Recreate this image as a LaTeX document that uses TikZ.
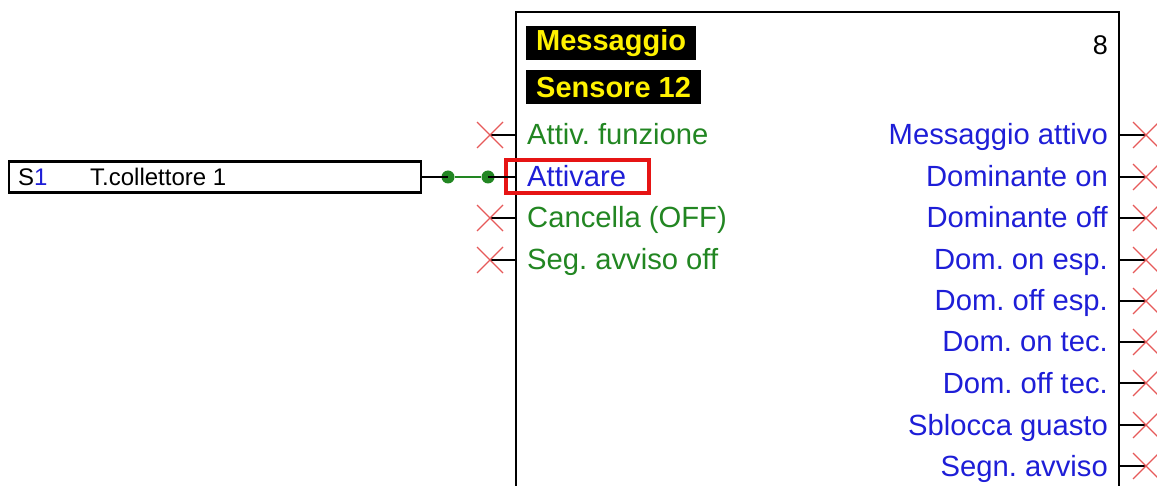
\documentclass[tikz,border=0pt]{standalone}
\usepackage{fontspec}
\setmainfont{Liberation Sans}
\frenchspacing
\definecolor{lgreen}{RGB}{34,134,34}
\definecolor{lblue}{RGB}{30,30,215}
\definecolor{xred}{RGB}{230,90,90}
\definecolor{hired}{RGB}{230,20,20}
\begin{document}
\frenchspacing
\begin{tikzpicture}[x=1pt,y=-1pt,
  lbl/.style={inner sep=0pt,font=\fontsize{29.2}{31}\selectfont},
  inl/.style={lbl,anchor=base west,text=lgreen},
  inb/.style={lbl,anchor=base west,text=lblue},
  outl/.style={lbl,anchor=base east,text=lblue},
  stub/.style={line width=2.3pt,black},
  xmark/.style={xred,line width=1.1pt},
  title/.style={fill=black,text=yellow,font=\fontsize{29}{31}\selectfont\bfseries,inner xsep=10pt,inner ysep=2pt,anchor=north west,minimum height=34pt},
  dot/.style={circle,fill=lgreen,inner sep=0pt,minimum size=13pt}]
\useasboundingbox (0,0) rectangle (1157,486);
% main block
\draw[line width=2.3pt] (516,486) coordinate (bl) -- (516,12) -- (1119,12) -- (1119,486);
\node[title] (t1) at (526,26) {Messaggio};
\node[title] (t2) at (526,70) {Sensore 12};
\node[lbl,anchor=base east,font=\fontsize{27}{29}\selectfont] (num) at (1108,55) {8};
% inputs
\foreach \y/\n in {135/i1,218/i3,260/i4}{
  \coordinate (\n s) at (490,\y);
  \coordinate (\n e) at (516,\y);
  \draw[stub] (\n s) -- (\n e);
  \draw[xmark] ([shift={(-13,-13)}]\n s) -- ([shift={(13,13)}]\n s) ([shift={(-13,13)}]\n s) -- ([shift={(13,-13)}]\n s);
}
\node[inl] (l1) at (527,145) {Attiv. funzione};
\node[inb] (l2) at (527,187) {Attivare};
\node[inl] (l3) at (527,228) {Cancella (OFF)};
\node[inl] (l4) at (527,270) {Seg. avviso off};
\draw[hired,line width=3.2pt] (506,160) rectangle (649,193);
% source
\node[draw,line width=2.2pt,minimum width=412pt,minimum height=31pt,inner sep=0pt,anchor=west] (src) at (8,177) {};
\node[lbl,anchor=base west,font=\fontsize{24}{26}\selectfont] (s) at (18,186) {S\textcolor{lblue}{1}};
\node[lbl,anchor=base west,font=\fontsize{24}{26}\selectfont] (sn) at (90,186) {T.collettore 1};
\node[dot] (d1) at (448,177) {};
\node[dot] (d2) at (488,177) {};
\coordinate (i2e) at (516,177);
\draw[stub] (src.east) -- (d1.center);
\draw[lgreen,line width=2.6pt] (d1) -- (d2);
\draw[stub] (d2.center) -- (i2e);
% outputs
\foreach \y/\t/\n in {135/Messaggio attivo/o1,177/Dominante on/o2,218/Dominante off/o3,260/Dom. on esp./o4,301/Dom. off esp./o5,342/Dom. on tec./o6,383/Dom. off tec./o7,425/Sblocca guasto/o8,466/Segn. avviso/o9}{
  \node[outl] (\n) at (1108,\y+10) {\t};
  \coordinate (\n s) at (1119,\y);
  \coordinate (\n e) at (1146,\y);
  \draw[stub] (\n s) -- (\n e);
  \draw[xmark] ([shift={(-13,-13)}]\n e) -- ([shift={(13,13)}]\n e) ([shift={(-13,13)}]\n e) -- ([shift={(13,-13)}]\n e);
}
\end{tikzpicture}
\end{document}
